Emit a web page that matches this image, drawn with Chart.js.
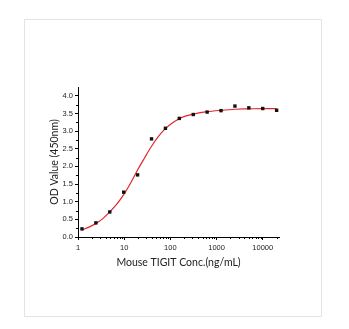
<!DOCTYPE html>
<html lang="en">
<head>
  <meta charset="UTF-8">
  <title>Mouse TIGIT binding curve</title>
  <script src="https://cdn.jsdelivr.net/npm/chart.js"></script>
  <style>
    body { margin: 0; background: #fff; }
    #frame { position: absolute; left: 24px; top: 19px; width: 296px; height: 296px; border: 1px solid #e4e4e4; }
    #wrap { position: absolute; left: 0; top: 0; width: 349px; height: 329px; }
  </style>
</head>
<body>
  <div id="frame"></div>
  <div id="wrap"><canvas id="myChart" width="349" height="329"></canvas></div>

  <script>
    // measured points
    const conc = [1.22, 2.44, 4.88, 9.77, 19.5, 39.1, 78.1, 156, 313, 625, 1250, 2500, 5000, 10000, 20000];
    const od = [0.23, 0.40, 0.71, 1.27, 1.76, 2.78, 3.08, 3.36, 3.47, 3.54, 3.58, 3.71, 3.66, 3.64, 3.59];

    // fitted curve
    const fitConc = [1.22, 1.73, 2.44, 3.45, 4.88, 6.9, 9.77, 13.8, 19.5, 27.6, 39.1, 55.2, 78.1, 110, 156, 221, 313, 625, 1250, 2500, 5000, 10000, 20000];
    const fitOd = [0.20, 0.28, 0.38, 0.52, 0.71, 0.93, 1.20, 1.53, 1.90, 2.24, 2.57, 2.85, 3.07, 3.23, 3.35, 3.43, 3.48, 3.55, 3.59, 3.62, 3.63, 3.64, 3.64];

    const xTicks = [1, 10, 100, 1000, 10000];
    const yTicks = [0, 0.5, 1, 1.5, 2, 2.5, 3, 3.5, 4];

    // short minor tick marks on both axes
    const minorTicks = {
      id: 'minorTicks',
      afterDraw(chart) {
        const ctx = chart.ctx;
        const x = chart.scales.x, y = chart.scales.y;
        ctx.save();
        ctx.strokeStyle = '#000';
        ctx.lineWidth = 1;
        ctx.beginPath();
        for (let d = 1; d <= 10000; d *= 10) {
          for (let m = 2; m <= 9; m++) {
            const v = d * m;
            if (v > x.max) break;
            const px = Math.round(x.getPixelForValue(v)) + 0.5;
            ctx.moveTo(px, x.top);
            ctx.lineTo(px, x.top + 2);
          }
        }
        for (let v = 0.25; v < y.max; v += 0.5) {
          const py = Math.round(y.getPixelForValue(v)) + 0.5;
          ctx.moveTo(y.right, py);
          ctx.lineTo(y.right - 2, py);
        }
        ctx.stroke();
        ctx.restore();
      }
    };

    const ctx = document.getElementById('myChart').getContext('2d');
    new Chart(ctx, {
      type: 'scatter',
      data: {
        datasets: [{
          label: 'fit',
          data: fitConc.map((c, i) => ({ x: c, y: fitOd[i] })),
          showLine: true,
          borderColor: '#e3262e',
          borderWidth: 1.2,
          pointRadius: 0,
          cubicInterpolationMode: 'monotone',
          order: 2
        }, {
          label: 'data',
          data: conc.map((c, i) => ({ x: c, y: od[i] })),
          pointStyle: 'rect',
          pointRadius: 2.4,
          backgroundColor: '#111',
          borderColor: '#111',
          borderWidth: 0,
          order: 1
        }]
      },
      options: {
        responsive: false,
        animation: false,
        layout: { padding: { left: 48, right: 70, top: 87, bottom: 60 } },
        plugins: { legend: { display: false }, tooltip: { enabled: false } },
        scales: {
          x: {
            type: 'logarithmic',
            min: 1,
            max: 22500,
            afterBuildTicks: s => { s.ticks = xTicks.map(v => ({ value: v })); },
            afterFit: s => { s.height = 32; },
            border: { color: '#000', width: 1 },
            grid: { drawOnChartArea: false, tickLength: 3, tickColor: '#000' },
            ticks: {
              color: '#222',
              padding: 3,
              maxRotation: 0,
              font: { family: 'Liberation Sans', size: 7.5 },
              callback: v => String(v)
            },
            title: {
              display: true,
              text: 'Mouse TIGIT Conc.(ng/mL)',
              color: '#222',
              padding: { top: 5, bottom: 0 },
              font: { family: 'Lato', size: 10.5 }
            }
          },
          y: {
            min: 0,
            max: 4.25,
            afterBuildTicks: s => { s.ticks = yTicks.map(v => ({ value: v })); },
            afterFit: s => { s.width = 30; },
            border: { color: '#000', width: 1 },
            grid: { drawOnChartArea: false, tickLength: 3, tickColor: '#000' },
            ticks: {
              color: '#222',
              padding: 2,
              font: { family: 'Liberation Sans', size: 7.5 },
              callback: v => v.toFixed(1)
            },
            title: {
              display: true,
              text: 'OD Value (450nm)',
              color: '#222',
              padding: { top: 0, bottom: 3 },
              font: { family: 'Lato', size: 10.5 }
            }
          }
        }
      },
      plugins: [minorTicks]
    });
  </script>
</body>
</html>
